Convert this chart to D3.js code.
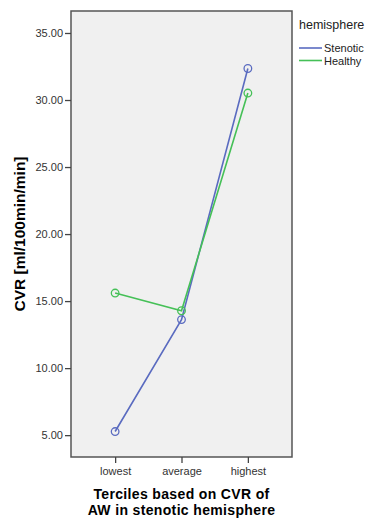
<!DOCTYPE html>
<html>
<head>
<meta charset="utf-8">
<script src="https://cdn.jsdelivr.net/npm/d3@7"></script>
<style>
  body { margin: 0; background: #fff; }
  text { font-family: "Liberation Sans", Arial, sans-serif; }
</style>
</head>
<body>
<div class="chart"></div>
<script>
// chart data
var categories = ["lowest", "average", "highest"]
var stenotic = [5.27, 13.62, 32.35]
var healthy = [15.6, 14.28, 30.52]
var seriesNames = ["Stenotic", "Healthy"]
var yTicks = [5, 10, 15, 20, 25, 30, 35]

var width = 366,
    height = 518
var margin = {top: 11, right: 74, bottom: 61, left: 71}
var innerW = width - margin.left - margin.right,
    innerH = height - margin.top - margin.bottom

var colors = {Stenotic: "#5a6bc0", Healthy: "#45c057"}

var svg = d3.select(".chart")
  .append("svg")
    .attr("width", width)
    .attr("height", height)

var g = svg.append("g")
    .attr("transform", "translate(" + margin.left + "," + margin.top + ")")

var x = d3.scalePoint()
  .domain(categories)
  .range([0, innerW])
  .padding(0.665)

var y = d3.scaleLinear()
  .domain([3.37, 36.64])
  .range([innerH, 0])

// plot background
g.append("rect")
  .attr("width", innerW)
  .attr("height", innerH)
  .attr("fill", "#f0f0f0")
  .attr("stroke", "#555")
  .attr("stroke-width", 1.5)

// y axis
var yAxis = g.append("g")
  .call(d3.axisLeft(y).tickValues(yTicks).tickFormat(d3.format(".2f")).tickSize(6).tickPadding(2))
yAxis.select(".domain").remove()
yAxis.selectAll("line").attr("stroke", "#444").attr("stroke-width", 1.3)
yAxis.selectAll("text").attr("fill", "#333").style("font-size", "11px")

// x axis
var xAxis = g.append("g")
  .attr("transform", "translate(0," + innerH + ")")
  .call(d3.axisBottom(x).tickSize(6).tickPadding(4))
xAxis.select(".domain").remove()
xAxis.selectAll("line").attr("stroke", "#444").attr("stroke-width", 1.3)
xAxis.selectAll("text").attr("fill", "#333").style("font-size", "11px")

// lines and markers
var series = [
  {name: "Stenotic", values: stenotic},
  {name: "Healthy", values: healthy}
]

var line = d3.line()
  .x(function(d, i) { return x(categories[i]) })
  .y(function(d) { return y(d) })

series.forEach(function(s) {
  g.append("path")
    .datum(s.values)
    .attr("d", line)
    .attr("fill", "none")
    .attr("stroke", colors[s.name])
    .attr("stroke-width", 1.6)

  g.selectAll(".pt-" + s.name)
    .data(s.values)
    .enter()
    .append("circle")
    .attr("cx", function(d, i) { return x(categories[i]) })
    .attr("cy", function(d) { return y(d) })
    .attr("r", 3.8)
    .attr("fill", "none")
    .attr("stroke", colors[s.name])
    .attr("stroke-width", 1.3)
})

// axis titles
svg.append("text")
  .attr("transform", "translate(25," + (margin.top + innerH / 2) + ") rotate(-90)")
  .attr("text-anchor", "middle")
  .style("font-size", "15.5px")
  .style("font-weight", "bold")
  .text("CVR [ml/100min/min]")

svg.append("text")
  .attr("x", margin.left + innerW / 2)
  .attr("y", 499)
  .attr("text-anchor", "middle")
  .style("font-size", "14px")
  .style("letter-spacing", "0.35px")
  .style("font-weight", "bold")
  .text("Terciles based on CVR of")

svg.append("text")
  .attr("x", margin.left + innerW / 2)
  .attr("y", 515)
  .attr("text-anchor", "middle")
  .style("font-size", "14px")
  .style("letter-spacing", "0.35px")
  .style("font-weight", "bold")
  .text("AW in stenotic hemisphere")

// legend
var legend = svg.append("g")
  .attr("transform", "translate(299,0)")

legend.append("text")
  .attr("x", 0)
  .attr("y", 29)
  .style("font-size", "12.5px")
  .attr("fill", "#222")
  .text("hemisphere")

seriesNames.forEach(function(name, i) {
  var ly = 48 + i * 12.5
  legend.append("line")
    .attr("x1", 0).attr("x2", 23)
    .attr("y1", ly).attr("y2", ly)
    .attr("stroke", colors[name])
    .attr("stroke-width", 1.6)
  legend.append("text")
    .attr("x", 25)
    .attr("y", ly + 4)
    .style("font-size", "11px")
    .attr("fill", "#222")
    .text(name)
})
</script>
</body>
</html>
